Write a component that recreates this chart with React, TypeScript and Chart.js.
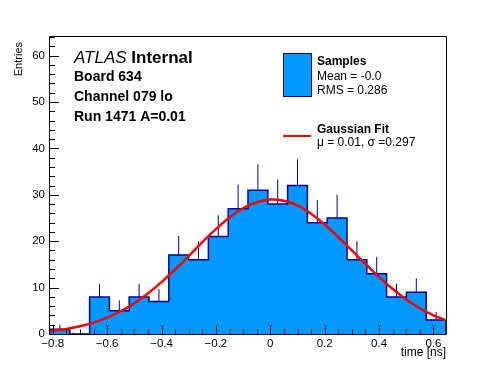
import React, { useEffect, useRef } from "react";
import { Chart, registerables } from "chart.js";

Chart.register(...registerables);

// ---- data ----
const binEdges = [
  -0.81, -0.7372, -0.6644, -0.5916, -0.5188, -0.446, -0.3732, -0.3004, -0.2276, -0.1548,
  -0.082, -0.0092, 0.0636, 0.1364, 0.2092, 0.282, 0.3548, 0.4276, 0.5004, 0.5732, 0.646,
];
const binCounts = [1, 0, 8, 5, 8, 7, 17, 16, 21, 27, 31, 28, 32, 24, 25, 16, 13, 8, 9, 3];
const binErrors = [1, 0, 2.83, 2.24, 2.83, 2.65, 4.12, 4, 4.58, 5.2, 5.57, 5.29, 5.66, 4.9, 5, 4, 3.61, 2.83, 3, 1.73];

const fitX = [
  -0.81, -0.8, -0.75, -0.7, -0.65, -0.6, -0.55, -0.5, -0.45, -0.4, -0.35, -0.3, -0.25, -0.2,
  -0.15, -0.1, -0.05, 0, 0.05, 0.1, 0.15, 0.2, 0.25, 0.3, 0.35, 0.4, 0.45, 0.5, 0.55, 0.6, 0.646,
];
const fitY = [
  0.64, 0.7, 1.1, 1.66, 2.46, 3.52, 4.9, 6.64, 8.74, 11.18, 13.9, 16.8, 19.8, 22.6,
  25.1, 27.1, 28.4, 29.0, 28.7, 27.7, 25.9, 23.6, 20.9, 18.0, 15.1, 12.25, 9.68, 7.44, 5.55, 4.03, 2.93,
];

const xTickValues = [-0.8, -0.6, -0.4, -0.2, 0, 0.2, 0.4, 0.6];
const yTickValues = [0, 10, 20, 30, 40, 50, 60];
const xRange = [-0.81, 0.646];
const yRange = [0, 64];

const FILL = "#0099ff";
const LINE = "#000099";
const FONT = "'Liberation Sans', Arial, Helvetica, sans-serif";

function fmtX(v: number) {
  const r = Math.round(v * 10) / 10;
  if (r === 0) return "0";
  return (r < 0 ? "\u2212" : "") + Math.abs(r).toFixed(1);
}

const rootDeco = {
  id: "rootDeco",
  afterDatasetsDraw(chart: any) {
    const { ctx, chartArea: a, scales } = chart;
    const x = scales.x;
    const y = scales.y;
    ctx.save();
    ctx.strokeStyle = "#000";
    ctx.lineWidth = 1;
    // frame
    ctx.beginPath();
    ctx.moveTo(a.left - 0.5, a.top - 0.5);
    ctx.lineTo(a.right + 0.5, a.top - 0.5);
    ctx.lineTo(a.right + 0.5, a.bottom + 0.5);
    ctx.lineTo(a.left - 0.5, a.bottom + 0.5);
    ctx.closePath();
    ctx.stroke();
    // y ticks (inward)
    ctx.beginPath();
    for (let v = yRange[0]; v <= yRange[1] + 1e-9; v += 2) {
      const py = Math.round(y.getPixelForValue(v)) + 0.5;
      const len = v % 10 === 0 ? 9 : 5;
      ctx.moveTo(a.left, py);
      ctx.lineTo(a.left + len, py);
    }
    // x ticks (inward)
    for (let k = 0; k <= 28; k++) {
      const v = -0.8 + k * 0.05;
      const px = Math.round(x.getPixelForValue(v)) + 0.5;
      const major = k % 4 === 0;
      const len = major ? 9 : 4.5;
      ctx.moveTo(px, a.bottom);
      ctx.lineTo(px, a.bottom - len);
    }
    ctx.stroke();
    ctx.restore();
  },
  afterDraw(chart: any) {
    const { ctx } = chart;
    ctx.save();
    ctx.fillStyle = "#000";
    ctx.textBaseline = "alphabetic";
    // axis titles
    ctx.font = `12px ${FONT}`;
    ctx.textAlign = "right";
    ctx.fillText("time [ns]", 446, 356);
    ctx.save();
    ctx.font = `11px ${FONT}`;
    ctx.translate(19, 42);
    ctx.rotate(-Math.PI / 2);
    ctx.textBaseline = "middle";
    ctx.fillText("Entries", 0, 0);
    ctx.restore();

    // ATLAS label block
    ctx.textAlign = "left";
    ctx.font = `italic 17px ${FONT}`;
    ctx.fillText("ATLAS", 74, 63);
    const w = ctx.measureText("ATLAS ").width;
    ctx.font = `bold 17px ${FONT}`;
    ctx.fillText("Internal", 74 + w, 63);
    ctx.font = `bold 14px ${FONT}`;
    ctx.fillText("Board 634", 74, 81);
    ctx.fillText("Channel 079 lo", 74, 101);
    ctx.fillText("Run 1471 A=0.01", 74, 121);

    // legend
    ctx.fillStyle = FILL;
    ctx.fillRect(283.5, 53.5, 28, 43);
    ctx.strokeStyle = LINE;
    ctx.lineWidth = 1;
    ctx.strokeRect(283.5, 53.5, 28, 43);
    ctx.strokeStyle = "#ff0000";
    ctx.lineWidth = 2;
    ctx.beginPath();
    ctx.moveTo(283, 136);
    ctx.lineTo(311, 136);
    ctx.stroke();

    ctx.fillStyle = "#000";
    ctx.font = `bold 12px ${FONT}`;
    ctx.fillText("Samples", 317, 65);
    ctx.fillText("Gaussian Fit", 317, 133);
    ctx.font = `12px ${FONT}`;
    ctx.fillText("Mean = -0.0", 317, 79.5);
    ctx.fillText("RMS = 0.286", 317, 93.5);
    ctx.fillText("\u03bc = 0.01, \u03c3 =0.297", 317, 146);
    ctx.restore();
  },
};

export default function App() {
  const ref = useRef<HTMLCanvasElement | null>(null);

  useEffect(() => {
    if (!ref.current) return;
    const histPts: any[] = [{ x: binEdges[0], y: 0 }];
    binCounts.forEach((c, i) => histPts.push({ x: binEdges[i], y: c }));
    histPts.push({ x: binEdges[binEdges.length - 1], y: binCounts[binCounts.length - 1] });
    histPts.push({ x: binEdges[binEdges.length - 1], y: 0 });

    const errPts: any[] = [];
    binCounts.forEach((c, i) => {
      if (binErrors[i] <= 0) return;
      const cx = (binEdges[i] + binEdges[i + 1]) / 2;
      errPts.push({ x: cx, y: c });
      errPts.push({ x: cx, y: c + binErrors[i] });
      errPts.push({ x: cx, y: null });
    });

    const fitPts = fitX.map((xv, i) => ({ x: xv, y: fitY[i] }));

    const chart = new Chart(ref.current, {
      type: "line",
      data: {
        datasets: [
          {
            label: "Gaussian Fit",
            data: fitPts,
            borderColor: "#ff0000",
            borderWidth: 2.5,
            pointRadius: 0,
            tension: 0.35,
            fill: false,
            order: 1,
          },
          {
            label: "errors",
            data: errPts,
            borderColor: LINE,
            borderWidth: 1,
            pointRadius: 0,
            spanGaps: false,
            fill: false,
            order: 2,
          },
          {
            label: "Samples",
            data: histPts,
            borderColor: LINE,
            backgroundColor: FILL,
            borderWidth: 1.5,
            pointRadius: 0,
            stepped: "before",
            fill: "origin",
            order: 3,
          },
        ],
      },
      options: {
        animation: false,
        responsive: false,
        devicePixelRatio: 1,
        events: [],
        layout: { padding: { top: 37, right: 50, left: 0, bottom: 0 } },
        plugins: { legend: { display: false }, tooltip: { enabled: false }, title: { display: false } },
        scales: {
          x: {
            type: "linear",
            min: xRange[0],
            max: xRange[1],
            grid: { display: false, drawTicks: false },
            border: { display: false },
            afterBuildTicks: (s: any) => {
              s.ticks = xTickValues.map((v) => ({ value: v }));
            },
            afterFit: (s: any) => {
              s.height = 38;
            },
            ticks: {
              autoSkip: false,
              maxRotation: 0,
              padding: 3,
              color: "#000",
              font: { family: FONT, size: 11.5 },
              callback: (v: any) => fmtX(Number(v)),
            },
          },
          y: {
            type: "linear",
            min: yRange[0],
            max: yRange[1],
            grid: { display: false, drawTicks: false },
            border: { display: false },
            afterBuildTicks: (s: any) => {
              s.ticks = yTickValues.map((v) => ({ value: v }));
            },
            afterFit: (s: any) => {
              s.width = 50;
            },
            ticks: {
              autoSkip: false,
              padding: 5,
              color: "#000",
              font: { family: FONT, size: 11.5 },
              callback: (v: any) => String(v),
            },
          },
        },
      },
      plugins: [rootDeco],
    });
    return () => chart.destroy();
  }, []);

  return (
    <div style={{ position: "absolute", left: 0, top: 0, width: 496, height: 372, background: "#fff" }}>
      <canvas ref={ref} width={496} height={372} style={{ display: "block" }} />
    </div>
  );
}
